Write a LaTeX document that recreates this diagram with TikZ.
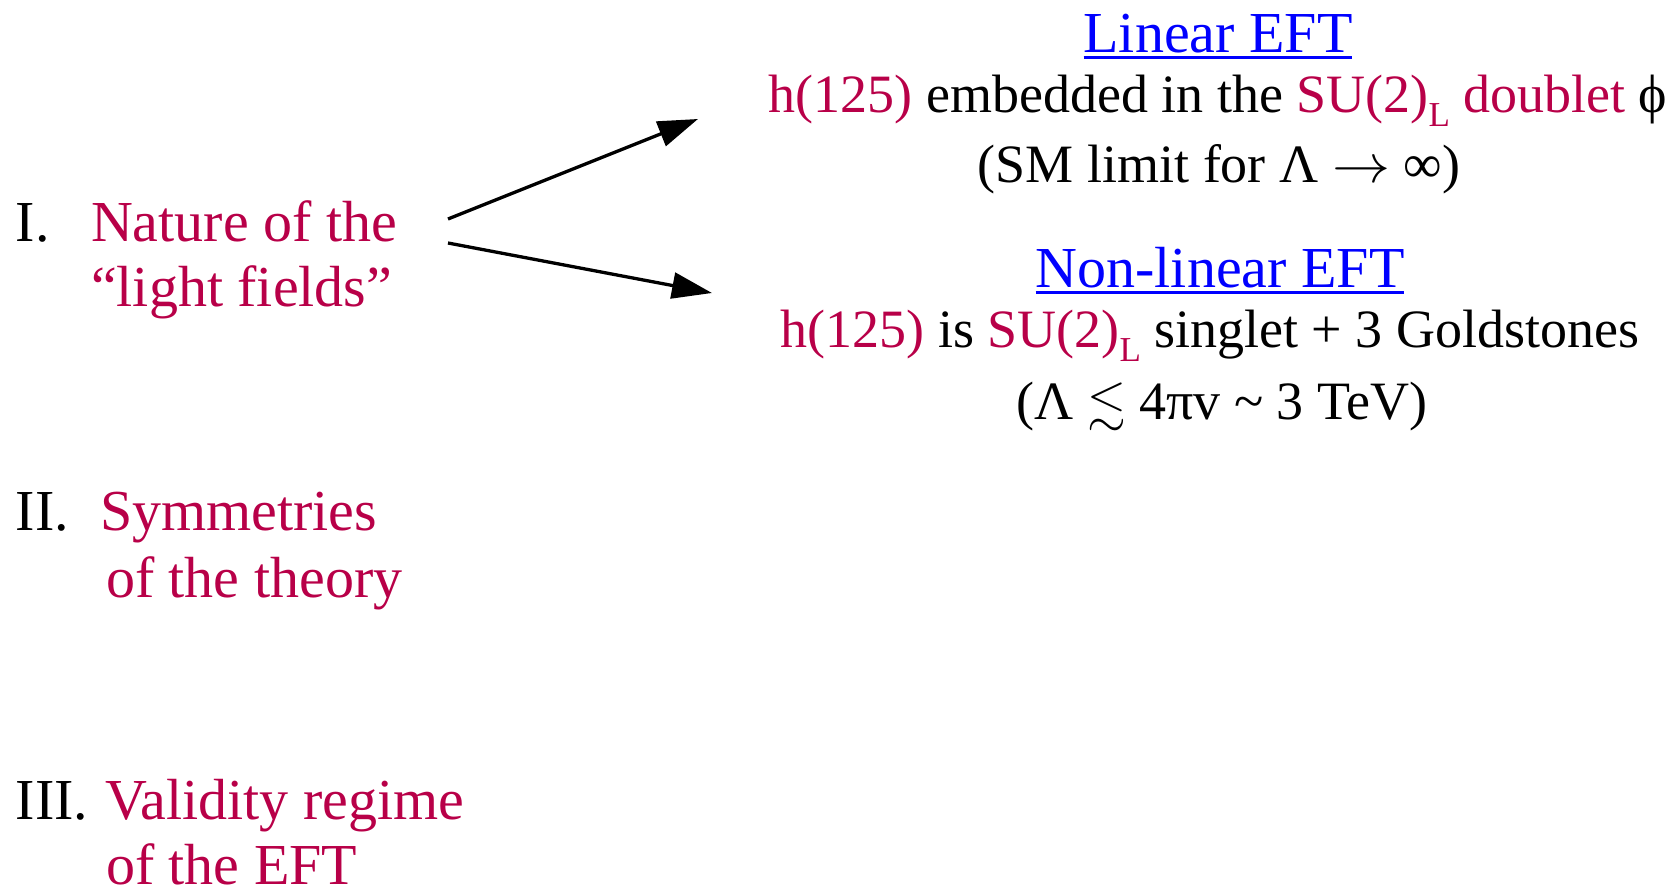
\documentclass[tikz,border=0pt]{standalone}
\usepackage{amssymb}
\usepackage{graphicx}
\usepackage{fontspec}
\setmainfont{Liberation Serif}
\usetikzlibrary{arrows.meta}
\definecolor{crim}{RGB}{184,0,72}
\definecolor{lnk}{RGB}{0,0,255}
\newcommand{\subL}{\raisebox{-14pt}{\fontsize{35}{35}\selectfont L}}
\newcommand{\bigarrow}{\resizebox{58pt}{20pt}{$\rightarrow$}}
\begin{document}
\begin{tikzpicture}[x=1pt,y=-1pt,
  txt/.style={inner sep=0pt,outer sep=0pt,font=\fontsize{58}{60}\selectfont},
  body/.style={inner sep=0pt,outer sep=0pt,font=\fontsize{54}{60}\selectfont,anchor=base},
  lft/.style={txt,anchor=base west},
  ctr/.style={txt,anchor=base},
  arr/.style={line width=3.3pt,-{Triangle[length=40pt,width=26pt]}},
  ulink/.style={lnk,line width=3pt}]
\useasboundingbox (0,0) rectangle (1671,885);
% left column
\node[lft] (n1) at (16,242) {I.};
\node[lft,text=crim] (t1a) at (91,242) {Nature of the};
\node[lft,text=crim] (t1b) at (91,307) {“light fields”};
\node[lft] (n2) at (16,530) {II.};
\node[lft,text=crim] (t2a) at (100,530) {Symmetries};
\node[lft,text=crim] (t2b) at (106,597) {of the theory};
\node[lft] (n3) at (16,819) {III.};
\node[lft,text=crim] (t3a) at (105,819) {Validity regime};
\node[lft,text=crim] (t3b) at (106,884) {of the EFT};
% right column
\node[ctr,text=lnk] (lin) at (1218,53) {Linear EFT};
\node[body] (lin2) at (1218,113) {\textcolor{crim}{h(125)} embedded in the \textcolor{crim}{SU(2)\subL{} doublet} ϕ};
\node[body] (lin3) at (1219,183) {(SM limit for Λ \bigarrow{} ∞)};
\node[ctr,text=lnk] (nl) at (1220,288) {Non-linear EFT};
\node[body] (nl2) at (1210,348) {\textcolor{crim}{h(125)} is \textcolor{crim}{SU(2)\subL} singlet + 3 Goldstones};
\node[body] (nl3) at (1222,419) {(Λ {\fontsize{50}{50}\selectfont$\lesssim$} 4πv \textasciitilde{} 3 TeV)};
\draw[ulink] ([yshift=-5pt]lin.base west) -- ([yshift=-5pt]lin.base east);
\draw[ulink] ([yshift=-5pt]nl.base west) -- ([yshift=-5pt]nl.base east);
% arrows
\coordinate (s1) at (448,219);
\coordinate (s2) at (448,243);
\coordinate (e1) at (698,119);
\coordinate (e2) at (712,293);
\draw[arr] (s1) -- (e1);
\draw[arr] (s2) -- (e2);
\end{tikzpicture}
\end{document}
